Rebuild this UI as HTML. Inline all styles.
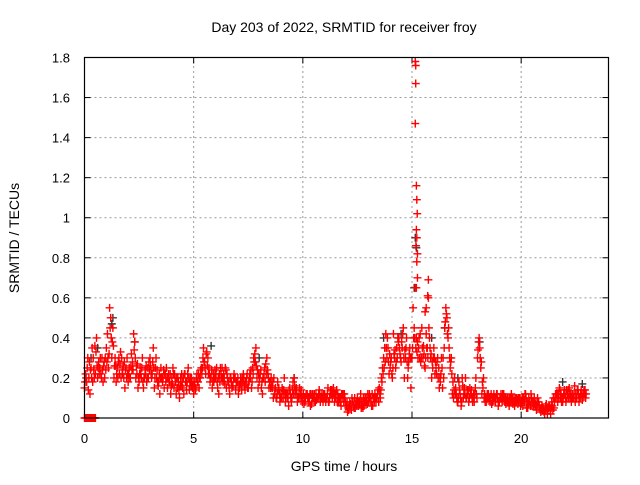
<!DOCTYPE html>
<html><head><meta charset="utf-8"><style>
body{margin:0;background:#fff}
svg text{font-family:"Liberation Sans",sans-serif;fill:#000}
</style></head><body>
<svg id="chart" width="640" height="480" xmlns="http://www.w3.org/2000/svg">
<rect width="640" height="480" fill="#fff"/>
<text x="344" y="32" font-size="14" text-anchor="middle">Day 203 of 2022, SRMTID for receiver froy</text>
<text x="344" y="471" font-size="14" text-anchor="middle">GPS time / hours</text>
<text transform="translate(19,238) rotate(-90)" font-size="14" text-anchor="middle">SRMTID / TECUs</text>
<g id="grid"></g><g id="ticks"></g><g id="marks"></g>
<rect x="84.5" y="57.5" width="524" height="360.5" fill="none" stroke="#000" stroke-width="1.2"/>
</svg>
<script>
const xTicks=[0,5,10,15,20];
const yTicks=[0,0.2,0.4,0.6,0.8,1,1.2,1.4,1.6,1.8];
const yTickLabels=["0","0.2","0.4","0.6","0.8","1","1.2","1.4","1.6","1.8"];
const redA=[0.15,0.18,0.2,0.25,0.3,0.22,0.2,0.25,0.3,0.28,
0.35,0.25,0.5,0.45,0.3,0.25,0.22,0.3,0.2,0.25,
0.18,0.2,0.28,0.38,0.22,0.18,0.2,0.15,0.22,0.25,
0.3,0.22,0.15,0.2,0.18,0.25,0.2,0.22,0.15,0.18,
0.2,0.15,0.12,0.18,0.2,0.15,0.22,0.18,0.14,0.2,
0.12,0.15,0.18,0.2,0.25,0.28,0.33,0.25,0.2,0.22,
0.2,0.15,0.18,0.25,0.2,0.15,0.18,0.2,0.16,0.2,
0.18,0.15,0.14,0.2,0.17,0.15,0.2,0.25,0.32,0.2,
0.18,0.15,0.2,0.27,0.22,0.18,0.15,0.12,0.1,0.15,
0.12,0.1,0.08,0.12,0.15,0.1,0.2,0.15,0.1,0.12,
0.1,0.08,0.12,0.1,0.07,0.1,0.12,0.1,0.08,0.1,
0.12,0.1,0.08,0.12,0.15,0.1,0.12,0.08,0.1,0.12,
0.06,0.04,0.06,0.08,0.05,0.1,0.07,0.08,0.06,0.1,
0.08,0.1,0.06,0.12,0.1,0.15,0.2,0.3,0.42,0.35,
0.25,0.2,0.3,0.35,0.4,0.28,0.45,0.3,0.2,0.35,
0.3,0.45,0.4,0.35,0.28,0.3,0.25,0.35,0.4,0.2,
0.35,0.25,0.2,0.18,0.15,0.45,0.5,0.35,0.3,0.1,
0.15,0.08,0.12,0.2,0.15,0.1,0.08,0.12,0.1,0.15,
0.3,0.35,0.12,0.1,0.08,0.12,0.1,0.08,0.1,0.12,
0.08,0.1,0.12,0.07,0.1,0.08,0.1,0.06,0.1,0.08,
0.07,0.1,0.12,0.05,0.08,0.06,0.1,0.04,0.08,0.03,
0.05,0.04,0.02,0.06,0.08,0.05,0.1,0.12,0.1,0.08,
0.12,0.1,0.15,0.08,0.1,0.12,0.14,0.1,0.09,0.12];
const redB=[0.22,0.3,0.12,0.35,0.2,0.4,0.28,0.22,0.18,0.3,
0.42,0.55,0.3,0.2,0.18,0.28,0.33,0.22,0.15,0.3,
0.25,0.32,0.42,0.2,0.15,0.25,0.3,0.2,0.18,0.28,
0.22,0.35,0.25,0.18,0.12,0.2,0.15,0.25,0.22,0.12,
0.25,0.2,0.15,0.1,0.22,0.12,0.18,0.25,0.2,0.15,
0.18,0.22,0.15,0.25,0.35,0.22,0.3,0.18,0.15,0.2,
0.25,0.12,0.22,0.18,0.25,0.2,0.12,0.15,0.22,0.18,
0.12,0.2,0.18,0.14,0.22,0.2,0.15,0.3,0.35,0.15,
0.22,0.12,0.25,0.3,0.15,0.2,0.1,0.15,0.18,0.08,
0.15,0.2,0.12,0.06,0.1,0.18,0.12,0.08,0.15,0.1,
0.07,0.12,0.1,0.06,0.12,0.08,0.1,0.14,0.1,0.12,
0.08,0.15,0.12,0.1,0.08,0.14,0.1,0.06,0.12,0.08,
0.03,0.08,0.1,0.05,0.08,0.06,0.12,0.05,0.1,0.07,
0.12,0.06,0.1,0.08,0.14,0.1,0.25,0.35,0.3,0.22,
0.3,0.42,0.25,0.4,0.32,0.35,0.2,0.4,0.28,0.15,
0.55,0.65,0.38,0.3,0.45,0.32,0.42,0.6,0.3,0.25,
0.22,0.28,0.15,0.3,0.2,0.55,0.4,0.25,0.12,0.2,
0.1,0.18,0.06,0.1,0.2,0.12,0.15,0.1,0.08,0.12,
0.38,0.25,0.15,0.08,0.12,0.1,0.07,0.12,0.1,0.06,
0.1,0.12,0.08,0.1,0.06,0.12,0.08,0.1,0.07,0.1,
0.1,0.08,0.05,0.1,0.12,0.08,0.06,0.1,0.05,0.06,
0.03,0.07,0.05,0.02,0.04,0.1,0.12,0.15,0.08,0.12,
0.08,0.14,0.1,0.12,0.16,0.1,0.08,0.14,0.12,0.1];
const redC=[0.18,0.25,0.28,0.2,0.24,0.33,0.25,0.3,0.24,0.2,
0.28,0.32,0.4,0.36,0.26,0.2,0.27,0.24,0.28,0.2,
0.22,0.26,0.24,0.3,0.27,0.22,0.25,0.2,0.26,0.2,
0.26,0.28,0.2,0.24,0.22,0.2,0.24,0.18,0.2,0.22,
0.17,0.22,0.2,0.14,0.16,0.2,0.18,0.22,0.18,0.16,
0.16,0.2,0.22,0.24,0.3,0.25,0.26,0.22,0.24,0.18,
0.22,0.2,0.25,0.2,0.17,0.22,0.15,0.18,0.2,0.14,
0.2,0.17,0.2,0.16,0.2,0.18,0.24,0.22,0.28,0.24,
0.2,0.18,0.22,0.22,0.2,0.15,0.18,0.14,0.12,0.12,
0.1,0.14,0.12,0.1,0.12,0.14,0.16,0.12,0.12,0.14,
0.12,0.1,0.1,0.12,0.1,0.12,0.09,0.12,0.1,0.08,
0.1,0.12,0.1,0.14,0.12,0.12,0.08,0.1,0.12,0.1,
0.08,0.06,0.04,0.06,0.07,0.08,0.09,0.06,0.08,0.08,
0.1,0.08,0.1,0.1,0.12,0.12,0.18,0.25,0.35,0.28,
0.28,0.25,0.34,0.3,0.35,0.38,0.3,0.35,0.25,0.3,
0.35,0.4,0.33,0.4,0.3,0.36,0.3,0.3,0.35,0.28,
0.3,0.22,0.25,0.22,0.3,0.48,0.42,0.3,0.22,0.14,
0.12,0.1,0.1,0.16,0.12,0.14,0.1,0.14,0.12,0.2,
0.34,0.3,0.18,0.12,0.1,0.1,0.12,0.1,0.08,0.1,
0.1,0.08,0.1,0.09,0.08,0.1,0.07,0.08,0.09,0.1,
0.08,0.09,0.1,0.07,0.06,0.08,0.07,0.06,0.06,0.05,
0.04,0.06,0.04,0.04,0.06,0.08,0.12,0.1,0.12,0.1,
0.1,0.12,0.12,0.1,0.12,0.1,0.12,0.12,0.1,0.14];
const redD=[0.2,0.14,0.24,0.18,0.36,0.26,0.22,0.2,0.26,0.24,
0.3,0.45,0.38,0.26,0.22,0.3,0.2,0.26,0.24,0.22,
0.2,0.24,0.34,0.26,0.2,0.22,0.18,0.24,0.2,0.24,
0.2,0.25,0.3,0.16,0.2,0.18,0.22,0.2,0.18,0.16,
0.22,0.18,0.2,0.16,0.18,0.22,0.14,0.2,0.16,0.18,
0.14,0.18,0.2,0.22,0.28,0.32,0.22,0.2,0.18,0.24,
0.18,0.22,0.2,0.22,0.24,0.18,0.2,0.16,0.2,0.18,
0.16,0.18,0.22,0.18,0.15,0.22,0.18,0.28,0.26,0.22,
0.24,0.2,0.18,0.24,0.18,0.16,0.2,0.1,0.14,0.1,
0.14,0.12,0.1,0.14,0.08,0.12,0.14,0.1,0.1,0.08,
0.1,0.12,0.08,0.12,0.1,0.08,0.1,0.12,0.12,0.1,
0.1,0.08,0.14,0.12,0.12,0.08,0.1,0.12,0.08,0.06,
0.05,0.07,0.08,0.1,0.06,0.08,0.05,0.1,0.08,0.12,
0.1,0.12,0.08,0.1,0.08,0.14,0.22,0.28,0.4,0.32,
0.22,0.32,0.28,0.38,0.3,0.42,0.34,0.28,0.32,0.3,
0.4,0.35,0.3,0.42,0.35,0.26,0.35,0.45,0.32,0.3,
0.28,0.3,0.2,0.25,0.35,0.52,0.45,0.28,0.18,0.12,
0.08,0.14,0.08,0.12,0.1,0.14,0.12,0.08,0.12,0.1,
0.4,0.28,0.2,0.1,0.1,0.08,0.1,0.1,0.12,0.08,
0.12,0.1,0.1,0.08,0.1,0.08,0.1,0.08,0.1,0.06,
0.06,0.12,0.08,0.08,0.1,0.06,0.08,0.08,0.04,0.04,
0.02,0.05,0.06,0.05,0.1,0.12,0.08,0.14,0.1,0.14,
0.14,0.1,0.12,0.1,0.08,0.14,0.1,0.12,0.14,0.12];
const spikeTimes=[15.15,15.17,15.17,15.15,15.2,15.22,15.24,15.2,15.22,15.18,15.25,15.22,15.25,15.2,15.6,15.75,15.72,15.65];
const spikeVals=[1.78,1.76,1.67,1.47,1.16,1.09,1.02,0.94,0.9,0.86,0.82,0.78,0.7,0.65,0.53,0.69,0.61,0.55];
const zeroTimes=[0.0,0.05,0.1,0.15,0.2,0.25,0.3,0.35,0.4,0.45,0.5];
const darkTimes=[0.3,0.6,1.25,1.3,2.3,5.8,8.0,9.6,13.7,14.5,15.1,15.15,15.2,15.9,16.5,17.1,18.1,21.9,22.8];
const darkVals=[0.3,0.35,0.47,0.5,0.38,0.36,0.3,0.2,0.4,0.42,0.65,0.9,0.85,0.4,0.45,0.2,0.38,0.18,0.17];
const X0=84.5,X1=608.5,Y0=418,Y1=57.5;
const xs=t=>X0+t/24*(X1-X0);
const ys=v=>Y0-v/1.8*(Y0-Y1);
const NS="http://www.w3.org/2000/svg";
const grid=document.getElementById('grid'),ticks=document.getElementById('ticks'),marks=document.getElementById('marks');
function mk(tag,attrs,parent){const e=document.createElementNS(NS,tag);for(const k in attrs)e.setAttribute(k,attrs[k]);parent.appendChild(e);return e;}
xTicks.forEach(t=>{
 const x=xs(t);
 if(t>0){const g=mk('line',{x1:x,x2:x,y1:Y0,y2:Y1,stroke:'#999','stroke-dasharray':'2,3'},grid);
 
 }
 mk('line',{x1:x,x2:x,y1:Y0,y2:Y0-6,stroke:'#000'},ticks);
 mk('line',{x1:x,x2:x,y1:Y1,y2:Y1+6,stroke:'#000'},ticks);
 const l=mk('text',{x:x,y:443,'font-size':13,'text-anchor':'middle'},ticks);l.textContent=t;
 
 
});
yTicks.forEach((v,i)=>{
 const y=ys(v);
 if(v>0&&v<1.8){const g=mk('line',{x1:X0,x2:X1,y1:y,y2:y,stroke:'#999','stroke-dasharray':'2,3'},grid);
 
 }
 mk('line',{x1:X0,x2:X0+6,y1:y,y2:y,stroke:'#000'},ticks);
 mk('line',{x1:X1,x2:X1-6,y1:y,y2:y,stroke:'#000'},ticks);
 const l=mk('text',{x:70,y:y+5,'font-size':13,'text-anchor':'end'},ticks);l.textContent=yTickLabels[i];
 
 
});
function plus(t,v,col,name){
 const x=xs(t),y=ys(v),h=4;
 const p=mk('path',{d:`M${x-h},${y}H${x+h}M${x},${y-h}V${y+h}`,stroke:col,'stroke-width':1.4,fill:'none'},marks);
 
 
}
darkTimes.forEach((t,i)=>plus(t,darkVals[i],'#333','dark-point'));
redA.forEach((v,i)=>plus(i*0.1,v,'#f00','red-point'));
redB.forEach((v,i)=>plus(i*0.1+0.05,v,'#f00','red-point'));
redC.forEach((v,i)=>plus(i*0.1+0.025,v,'#f00','red-point'));
redD.forEach((v,i)=>plus(i*0.1+0.075,v,'#f00','red-point'));
spikeTimes.forEach((t,i)=>plus(t,spikeVals[i],'#f00','spike-point'));
zeroTimes.forEach(t=>plus(t,0,'#f00','zero-point'));
</script>
</body></html>
